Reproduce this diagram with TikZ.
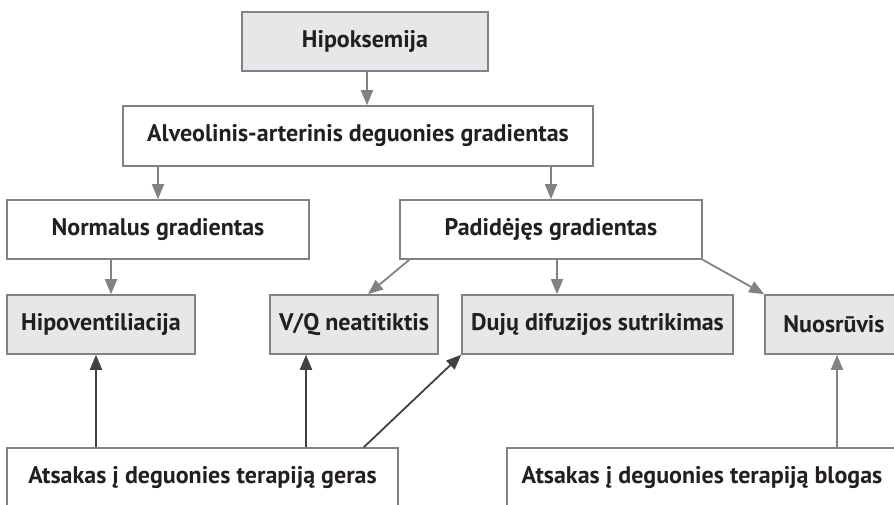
\documentclass[tikz,border=0pt]{standalone}
\usepackage{fontspec}
\setmainfont{PT Sans}
\usetikzlibrary{arrows.meta}

\definecolor{boxline}{HTML}{808285}
\definecolor{boxfill}{HTML}{E6E7E8}
\definecolor{darkline}{HTML}{414042}
\definecolor{txt}{HTML}{231F20}

\begin{document}
\begin{tikzpicture}[x=1pt, y=-1pt,
        box/.style={draw=boxline, line width=1.6pt, fill=white, text=txt,
            font=\bfseries\fontsize{24}{28}\selectfont, inner sep=0pt,
            minimum height=59pt},
        grey/.style={box, fill=boxfill},
        garrow/.style={draw=boxline, line width=1.8pt, -{Triangle[width=12pt,length=15pt]}},
        darrow/.style={draw=darkline, line width=1.8pt, -{Triangle[width=12pt,length=15pt]}}]
        \useasboundingbox (0,0) rectangle (894,504);

        \node[grey, minimum width=246pt] (hip) at (365, 41.5) {Hipoksemija};
        \node[box, minimum width=470pt, minimum height=60pt] (alv) at (358, 136) {Alveolinis-arterinis deguonies gradientas};
        \node[box, minimum width=302pt] (norm) at (158, 229.5) {Normalus gradientas};
        \node[box, minimum width=302pt] (pad) at (551, 229.5) {Padidėjęs gradientas};
        \node[grey, minimum width=188pt] (hipo) at (101, 324.5) {Hipoventiliacija};
        \node[grey, minimum width=168pt] (vq) at (354, 324.5) {V/Q neatitiktis};
        \node[grey, minimum width=271pt] (dif) at (597.5, 324.5) {Dujų difuzijos sutrikimas};
        \node[grey, minimum width=138pt] (nuo) at (834, 324.5) {Nuosrūvis};
        \node[box, minimum width=391pt, minimum height=60pt] (ger) at (202.5, 478) {Atsakas į deguonies terapiją geras};
        \node[box, minimum width=390pt, minimum height=60pt] (blo) at (702, 478) {Atsakas į deguonies terapiją blogas};

        % diagnostic path
        \draw[garrow] ([xshift=2]hip.south) -- ([xshift=2]hip.south |- alv.north);
        \draw[garrow] (alv.south -| norm.north) -- (norm.north);
        \draw[garrow] (alv.south -| pad.north) -- (pad.north);
        \draw[garrow] ([xshift=10]hipo.north |- norm.south) -- ([xshift=10]hipo.north);
        \draw[garrow] ([xshift=10]pad.south west) -- ([xshift=14]vq.north);
        \draw[garrow] ([xshift=6]pad.south) -- ([xshift=6]pad.south |- dif.north);
        \draw[garrow] (pad.south east) -- (nuo.north west);

        % oxygen response
        \draw[darrow] ([xshift=-5]hipo.south |- ger.north) -- ([xshift=-5]hipo.south);
        \draw[darrow] ([xshift=-48]vq.south |- ger.north) -- ([xshift=-48]vq.south);
        \draw[darrow] ([xshift=-35]ger.north east) -- (dif.south west);
        \draw[garrow] ([xshift=3]nuo.south |- blo.north) -- ([xshift=3]nuo.south);
\end{tikzpicture}
\end{document}
